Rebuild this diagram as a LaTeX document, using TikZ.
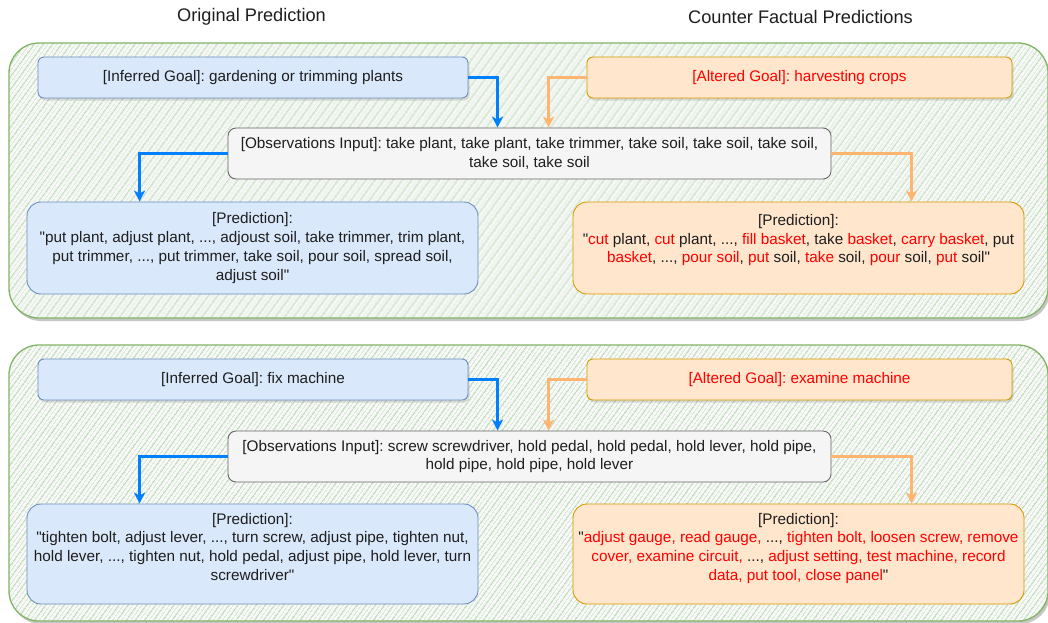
\documentclass[tikz,border=0pt]{standalone}
\usepackage{fontspec}
\setmainfont{Liberation Sans}[Ligatures=TeXOff]
\usetikzlibrary{arrows.meta,calc,shadows,patterns.meta}

\definecolor{bluefill}{HTML}{DAE8FC}
\definecolor{bluedraw}{HTML}{6C8EBF}
\definecolor{orangefill}{HTML}{FFE6CC}
\definecolor{orangedraw}{HTML}{D79B00}
\definecolor{grayfill}{HTML}{F5F5F5}
\definecolor{graydraw}{HTML}{666666}
\definecolor{panelgreen}{HTML}{82B366}
\definecolor{panelbg}{HTML}{F8FBF7}
\definecolor{hatchgreen}{HTML}{C8E0C4}
\definecolor{hatchgray}{HTML}{C0C0C0}
\definecolor{arrowblue}{HTML}{007FFF}
\definecolor{arroworange}{HTML}{FFB570}
\definecolor{txt}{HTML}{1E1E1E}
\definecolor{alt}{HTML}{FF0000}

% diagonal two-tone hatching for the group panels
\tikzdeclarepattern{
  name=panelhatch,
  type=colored,
  bottom left={(0pt,0pt)},
  top right={(8pt,8pt)},
  tile size={(8pt,8pt)},
  tile transformation={rotate=-36},
  code={
    \draw[line width=1.4pt, draw=hatchgreen] (2pt,-1pt) -- (2pt,9pt);
    \draw[line width=0.6pt, draw=hatchgray] (6pt,-1pt) -- (6pt,9pt);
  }
}

\newcommand{\al}[1]{\textcolor{alt}{#1}}
\newcommand{\boxfont}{\fontsize{15.3}{18.7}\selectfont\frenchspacing}

\tikzset{
  basebox/.style={inner sep=0pt, align=center, font=\boxfont, text=txt, line width=0.9pt},
  goalblue/.style={basebox, rectangle, rounded corners=6pt, fill=bluefill, draw=bluedraw,
    minimum width=430pt, minimum height=41pt,
    drop shadow={shadow xshift=1.5pt, shadow yshift=-2.5pt, opacity=0.25}},
  goalorange/.style={basebox, rectangle, rounded corners=6pt, fill=orangefill, draw=orangedraw,
    minimum width=425pt, minimum height=41pt, text=alt,
    drop shadow={shadow xshift=1.5pt, shadow yshift=-2.5pt, opacity=0.25}},
  obsbox/.style={basebox, rectangle, rounded corners=8pt, fill=grayfill, draw=graydraw,
    minimum width=603pt, minimum height=51pt},
  predblue/.style={basebox, rectangle, rounded corners=14pt, fill=bluefill, draw=bluedraw,
    minimum width=451pt},
  predorange/.style={basebox, rectangle, rounded corners=14pt, fill=orangefill, draw=orangedraw,
    minimum width=451pt},
  linkblue/.style={draw=arrowblue, line width=2.5pt,
    -{Stealth[length=11pt,width=11pt,inset=3pt]}},
  linkorange/.style={draw=arroworange, line width=2.5pt,
    -{Stealth[length=11pt,width=11pt,inset=3pt]}},
  heading/.style={font=\fontsize{18.2}{22}\selectfont, text=txt, inner sep=0pt},
}

\begin{document}
\begin{tikzpicture}[x=1pt,y=-1pt]
\useasboundingbox (0,0) rectangle (1048,622);
\fill[white] (0,0) rectangle (1048,622);

% group panels (right side runs off the page)
\foreach \top/\bot in {43/318, 345/621}{
  \fill[black, opacity=0.22, rounded corners=30pt] (11,\top+3) rectangle (1050,\bot+3);
  \fill[panelbg, rounded corners=30pt] (9,\top) rectangle (1048,\bot);
  \fill[pattern=panelhatch, rounded corners=30pt] (9,\top) rectangle (1048,\bot);
  \draw[panelgreen, line width=1.3pt, rounded corners=30pt] (9,\top) rectangle (1048,\bot);
}

% column headings
\node[heading] (h1) at (251.5,17) {Original Prediction};
\node[heading] (h2) at (800.5,17) {Counter Factual Predictions};

% ---- upper group ----
\node[goalblue] (g1) at (253,77.5) {[Inferred Goal]: gardening or trimming plants};
\node[goalorange] (a1) at (799.5,77.5) {[Altered Goal]: harvesting crops};
\node[obsbox] (o1) at (529.5,153.5) {[Observations Input]: take plant, take plant, take trimmer, take soil, take soil, take soil,\\take soil, take soil};
\node[predblue, minimum height=92pt] (p1) at (252.5,248)
  {[Prediction]:\\"put plant, adjust plant, ..., adjoust soil, take trimmer, trim plant,\\put trimmer, ..., put trimmer, take soil, pour soil, spread soil,\\adjust soil"};
\node[predorange, minimum height=92pt] (q1) at (798.5,248)
  {[Prediction]:\\"\al{cut} plant, \al{cut} plant, ..., \al{fill basket}, take \al{basket}, \al{carry basket}, put\\\al{basket}, ..., \al{pour soil}, \al{put} soil, \al{take} soil, \al{pour} soil, \al{put} soil"\\\mbox{}};

\draw[linkblue] (g1.east) -| ($(o1.north west)+(270,0)$);
\draw[linkorange] (a1.west) -| ($(o1.north west)+(321,0)$);
\draw[linkblue] (o1.west) -| ($(p1.north west)+(113,0)$);
\draw[linkorange] (o1.east) -| ($(q1.north west)+(339,0)$);

% ---- lower group ----
\node[goalblue] (g2) at (253,379.5) {[Inferred Goal]: fix machine};
\node[goalorange] (a2) at (799.5,379.5) {[Altered Goal]: examine machine};
\node[obsbox] (o2) at (529.5,456.5) {[Observations Input]: screw screwdriver, hold pedal, hold pedal, hold lever, hold pipe,\\hold pipe, hold pipe, hold lever};
\node[predblue, minimum height=100pt] (p2) at (252.5,554)
  {[Prediction]:\\"tighten bolt, adjust lever, ..., turn screw, adjust pipe, tighten nut,\\hold lever, ..., tighten nut, hold pedal, adjust pipe, hold lever, turn\\screwdriver"\\[-4pt]\mbox{}};
\node[predorange, minimum height=100pt] (q2) at (798.5,554)
  {[Prediction]:\\"\al{adjust gauge, read gauge,} ..., \al{tighten bolt, loosen screw, remove}\\\al{cover, examine circuit,} ..., \al{adjust setting, test machine, record}\\\al{data, put tool, close panel}"\\[-4pt]\mbox{}};

\draw[linkblue] (g2.east) -| ($(o2.north west)+(270,0)$);
\draw[linkorange] (a2.west) -| ($(o2.north west)+(321,0)$);
\draw[linkblue] (o2.west) -| ($(p2.north west)+(113,0)$);
\draw[linkorange] (o2.east) -| ($(q2.north west)+(339,0)$);
\end{tikzpicture}
\end{document}
